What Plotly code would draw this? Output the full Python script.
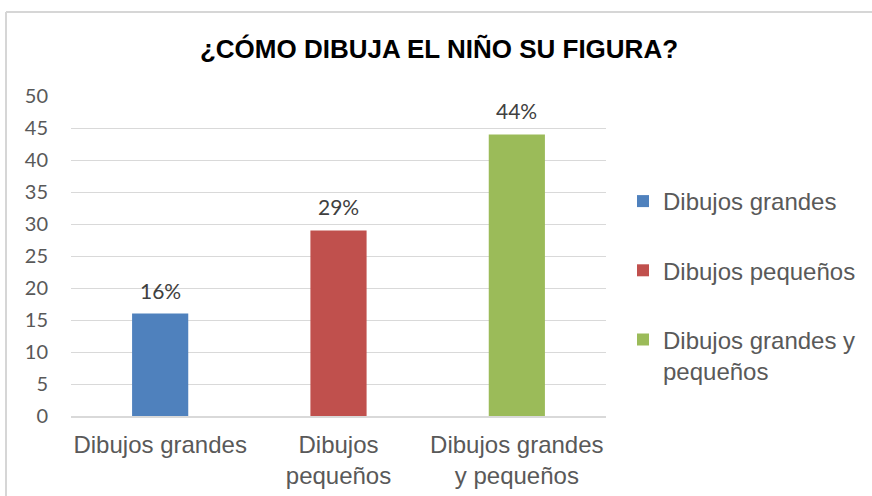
import plotly.graph_objects as go

categories = ["Dibujos grandes", "Dibujos pequeños", "Dibujos grandes y pequeños"]
tick_labels = ["Dibujos grandes", "Dibujos<br>pequeños", "Dibujos grandes<br>y pequeños"]
legend_labels = ["Dibujos grandes", "Dibujos pequeños", "Dibujos grandes y<br>pequeños"]
values = [16, 29, 44]
label_texts = ["16%", "29%", "44%"]
colors = ["#4f81bd", "#c0504d", "#9bbb59"]
y_ticks = [0, 5, 10, 15, 20, 25, 30, 35, 40, 45, 50]

fig = go.Figure()
for i, cat in enumerate(categories):
    fig.add_trace(go.Bar(
        x=[cat], y=[values[i]], name=legend_labels[i],
        marker=dict(color=colors[i], line=dict(width=0)),
        width=0.315, legendgroup=f"g{i}",
    ))
    fig.add_annotation(
        x=cat, y=values[i], text=label_texts[i], showarrow=False,
        yanchor="bottom", yshift=9,
        font=dict(family="Lato, Open Sans, sans-serif", size=21, color="#404040"),
    )

W, H = 872, 496
L, R, T, B = 71, 266, 96, 80
pw, ph = W - L - R, H - T - B

def px_x(p):
    return (p - L) / pw

def px_y(p):
    return (H - B - p) / ph

fig.update_layout(
    template="none",
    width=W, height=H,
    margin=dict(l=L, r=R, t=T, b=B, autoexpand=False),
    paper_bgcolor="white", plot_bgcolor="white",
    barmode="overlay",
    hovermode=False,
    title=dict(
        text="<b>¿CÓMO DIBUJA EL NIÑO SU FIGURA?</b>",
        x=(439) / W, xanchor="center",
        y=1 - 49 / H, yanchor="middle",
        font=dict(family="Liberation Sans, Arial, sans-serif", size=26, color="#000000"),
    ),
    xaxis=dict(
        categoryorder="array", categoryarray=categories,
        tickmode="array", tickvals=categories, ticktext=tick_labels,
        tickfont=dict(family="Liberation Sans, Arial, sans-serif", size=24, color="#595959"),
        showgrid=False, showline=True, linecolor="#d9d9d9", linewidth=1.5,
        ticks="", ticklabelstandoff=6, fixedrange=True, automargin=False,
    ),
    yaxis=dict(
        range=[0, 50], tickmode="array", tickvals=y_ticks,
        tickfont=dict(family="Lato, Open Sans, sans-serif", size=20, color="#595959"),
        showgrid=True, gridcolor="#d9d9d9", gridwidth=1,
        zeroline=False, showline=False, ticks="", ticklabelstandoff=22,
        automargin=False, fixedrange=True,
    ),
    legend=dict(
        x=px_x(623), xanchor="left",
        y=px_y(179), yanchor="top",
        font=dict(family="Liberation Sans, Arial, sans-serif", size=24, color="#595959"),
        tracegroupgap=35, valign="top",
        bgcolor="rgba(0,0,0,0)", borderwidth=0,
    ),
    showlegend=True,
    shapes=[
        dict(type="line", xref="paper", yref="paper",
             x0=px_x(6), x1=px_x(880), y0=px_y(12), y1=px_y(12),
             line=dict(color="#d6d6d6", width=2)),
        dict(type="line", xref="paper", yref="paper",
             x0=px_x(6), x1=px_x(6), y0=px_y(12), y1=px_y(500),
             line=dict(color="#d6d6d6", width=2)),
    ],
)

fig.write_html("out.html", config={"displayModeBar": False},
               post_script="document.body.style.margin='0';")
